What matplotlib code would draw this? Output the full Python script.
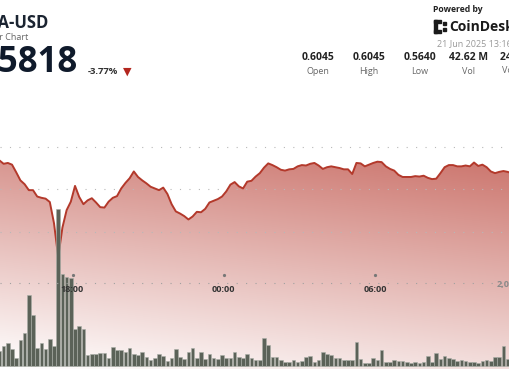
import matplotlib
matplotlib.use("Agg")
import matplotlib.pyplot as plt
import matplotlib.transforms as mtransforms
from matplotlib.patches import Rectangle
import numpy as np

plt.rcParams['font.family'] = ['Open Sans', 'DejaVu Sans']
plt.rcParams['lines.scale_dashes'] = False

# 10 minute candles, first visible one at 15:06 on 20 Jun (hours, 24 = midnight)
start_hour = 15.1
prices = [
    0.5868, 0.5860, 0.5862, 0.5858, 0.5840, 0.5821, 0.5812, 0.5798, 0.5798, 0.5783,
    0.5780, 0.5778, 0.5770, 0.5720,
    0.5640, 0.5710, 0.5751, 0.5771, 0.5808, 0.5782, 0.5765, 0.5774, 0.5779, 0.5769,
    0.5758, 0.5757, 0.5771, 0.5780, 0.5784, 0.5802, 0.5815, 0.5826, 0.5842, 0.5829,
    0.5821, 0.5814, 0.5806, 0.5802, 0.5798, 0.5804, 0.5789, 0.5765, 0.5748, 0.5743,
    0.5737, 0.5729, 0.5736, 0.5747, 0.5746, 0.5754, 0.5769, 0.5773, 0.5777, 0.5783,
    0.5795, 0.5811, 0.5817, 0.5807, 0.5802, 0.5818, 0.5820, 0.5830, 0.5838, 0.5851,
    0.5861, 0.5857, 0.5852, 0.5846, 0.5844, 0.5847, 0.5848, 0.5854, 0.5857, 0.5856,
    0.5860, 0.5862, 0.5856, 0.5848, 0.5852, 0.5854, 0.5852, 0.5850, 0.5847, 0.5847,
    0.5836, 0.5862, 0.5861, 0.5854, 0.5858, 0.5862, 0.5865, 0.5864, 0.5854, 0.5848,
    0.5844, 0.5834, 0.5829, 0.5829, 0.5829, 0.5831, 0.5830, 0.5832, 0.5827, 0.5824,
    0.5825, 0.5838, 0.5852, 0.5857, 0.5857, 0.5854, 0.5854, 0.5856, 0.5854, 0.5863,
    0.5855, 0.5858, 0.5852, 0.5842, 0.5838, 0.5841, 0.5843, 0.5841, 0.5838,
]
# volume per candle, millions ADA
volumes = [
    0.30,
    0.41, 0.47, 0.34, 0.17, 0.52, 0.66, 1.43, 1.02, 0.37, 0.47, 0.35, 0.54, 0.41,
    3.14, 1.84, 1.78, 1.76, 0.75, 0.81, 0.74, 0.22, 0.24, 0.24, 0.26, 0.27, 0.17,
    0.39, 0.33, 0.33, 0.29, 0.36, 0.25, 0.23, 0.29, 0.19, 0.12, 0.16, 0.25, 0.21,
    0.11, 0.17,
    0.34, 0.19, 0.14, 0.29, 0.37, 0.17, 0.29, 0.14, 0.24, 0.17, 0.14, 0.22, 0.16,
    0.16, 0.29, 0.19, 0.16, 0.24, 0.17, 0.12, 0.13, 0.56, 0.42, 0.19, 0.19, 0.12,
    0.09, 0.09, 0.12, 0.09, 0.11, 0.19, 0.20, 0.09, 0.12, 0.29, 0.25, 0.23, 0.17,
    0.17,
    0.12, 0.12, 0.12, 0.49, 0.14, 0.07, 0.07, 0.16, 0.12, 0.32, 0.09, 0.09, 0.12,
    0.11, 0.11, 0.08, 0.07, 0.08, 0.07, 0.09, 0.21, 0.09, 0.27, 0.14, 0.21, 0.17,
    0.14, 0.11, 0.13, 0.11, 0.09, 0.08, 0.07, 0.11, 0.12, 0.11, 0.19, 0.19, 0.40,
    0.14, 0.12,
]
tick_hours = [18, 24, 30]
tick_labels = ["18:00", "00:00", "06:00"]
grid_prices = [0.59, 0.58, 0.57]

stat_values = ["0.6045", "0.6045", "0.5640", "42.62 M"]
stat_names = ["Open", "High", "Low", "Vol"]

hours = start_hour + np.arange(len(prices)) / 6.0

W, H = 510, 369
fig = plt.figure(figsize=(W / 100, H / 100), dpi=100)


def fx(x):
    return x / W


def fy(y):
    return 1 - y / H


xlim = (15.123, 35.361)
ylim = (0.53772, 0.62454)

ax = fig.add_axes([0, 0, 1, 1])
ax.set_axis_off()

# red gradient under the price line
gx, gy = np.meshgrid(np.arange(W), np.arange(H))
f = np.clip(0.52 + (190 - gy) * 0.0029 + (gx - 20) * 0.00037, 0, 0.85)
red = np.array([190, 80, 70]) / 255
img = (1 - f[..., None]) + red * f[..., None]
im = ax.imshow(img, extent=[xlim[0], xlim[1], ylim[0], ylim[1]],
               aspect='auto', origin='upper', zorder=1)
area = ax.fill_between(hours, prices, 0.5, facecolor='none', edgecolor='none')
im.set_clip_path(area.get_paths()[0], ax.transData)

for p in grid_prices:
    ax.axhline(p, color='#b8b8b8', lw=0.8, ls=(0, (0.8, 6.0)), zorder=2)

ax.plot(hours, prices, color='#b3392b', lw=1.4, zorder=4)
ax.set_xlim(*xlim)
ax.set_ylim(*ylim)

# volume bars
ax2 = fig.add_axes([0, 0, 1, 1])
ax2.set_axis_off()
ax2.patch.set_alpha(0)
ax2.bar(hours, volumes, width=0.85 / 6, color='#5b6258',
        edgecolor='#a9aea7', linewidth=0.4, zorder=3)
ax2.set_xlim(*xlim)
ax2.set_ylim(-0.06, 7.32)

# time axis
trans = mtransforms.blended_transform_factory(ax2.transData, ax2.transAxes)
ax2.plot([0, 1], [fy(283)] * 2, transform=ax2.transAxes, color='#a0a0a0',
         lw=0.8, ls=(0, (0.8, 6.0)), zorder=6)
ax2.plot(tick_hours, [fy(275)] * len(tick_hours), transform=trans, ls='none',
         marker='o', ms=1.3, color='#777777', zorder=6)
for h, lab in zip(tick_hours, tick_labels):
    ax2.text(h, fy(289), lab, transform=trans, ha='center', va='center',
             fontsize=6.5, fontweight='bold', color='#333333', zorder=7)
fig.text(fx(497), fy(284), "2,000,000", ha='left', va='center',
         fontsize=6.5, fontweight='bold', color='#8a8a8a')

# header
fig.text(fx(48), fy(23), "ADA-USD", ha='right', va='center', fontsize=12,
         fontweight='bold', color='#1b2431')
fig.text(fx(28), fy(37), "24 Hour Chart", ha='right', va='center', fontsize=6.5,
         color='#666666')
fig.text(fx(78), fy(63), "0.5818", ha='right', va='center', fontsize=25,
         fontweight='bold', color='#0f1a2b')
fig.text(fx(88), fy(72), "-3.77%", ha='left', va='center', fontsize=6.8,
         fontweight='bold', color='#333333')
fig.text(fx(123), fy(72), "▼", ha='left', va='center', fontsize=8,
         color='#b3261e', family='DejaVu Sans')

fig.text(fx(433), fy(10), "Powered by", ha='left', va='center', fontsize=6.2,
         fontweight='bold', color='#222222')
for x0, y0, w, h in [(434, 20, 3, 13), (434, 20, 7, 3), (434, 30, 7, 3),
                     (443, 22, 3, 3), (443, 28, 3, 3)]:
    fig.add_artist(Rectangle((fx(x0), fy(y0 + h)), w / W, h / H,
                             transform=fig.transFigure, color='#1a1a1a'))
fig.text(fx(449), fy(27), "CoinDesk", ha='left', va='center', fontsize=10,
         fontweight='bold', color='#1a1a1a')
fig.text(fx(437), fy(44), "21 Jun 2025 13:16", ha='left', va='center',
         fontsize=6.5, color='#999999')

for cx, v, n in zip([318, 369, 420, 469], stat_values, stat_names):
    fig.text(fx(cx), fy(58), v, ha='center', va='center', fontsize=7.5,
             fontweight='bold', color='#222222')
    fig.text(fx(cx), fy(71), n, ha='center', va='center', fontsize=6.5,
             color='#666666')
fig.text(fx(500), fy(58), "24.72 M", ha='left', va='center', fontsize=7.5,
         fontweight='bold', color='#222222')
fig.text(fx(502), fy(71), "Vol (USD)", ha='left', va='center', fontsize=6.5,
         color='#666666')

fig.savefig("out.png", dpi=100)
